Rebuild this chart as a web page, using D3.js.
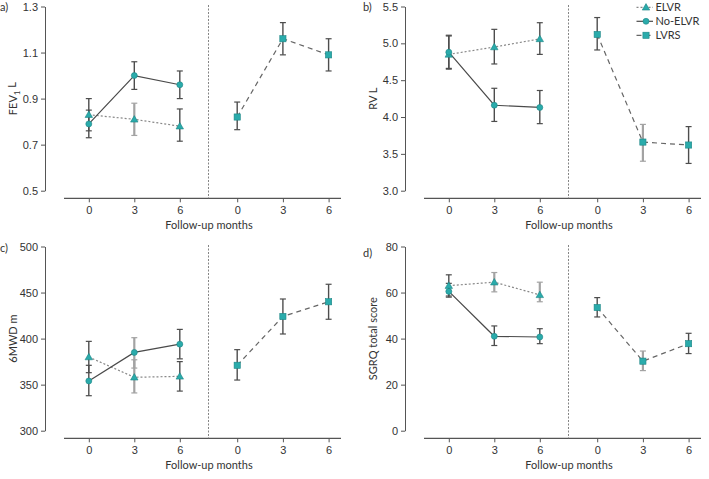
<!DOCTYPE html>
<html><head><meta charset="utf-8">
<script src="https://cdn.jsdelivr.net/npm/d3@7"></script>
<style>
body{margin:0;background:#fff;}
svg{display:block;font-family:Lato,"Noto Sans",sans-serif;}
</style></head>
<body><svg id="c" width="709" height="479"></svg>
<script>
// ---------- DATA ----------
const months = [0, 3, 6];
const seriesNames = ["ELVR", "No-ELVR", "LVRS"];
const xTitle = "Follow-up months";

// Panel a: FEV1 (L)
const fevTicks = [0.5, 0.7, 0.9, 1.1, 1.3];
const fevELVR = [0.83, 0.81, 0.78], fevELVRlo = [0.76, 0.74, 0.715], fevELVRhi = [0.90, 0.88, 0.855];
const fevNo = [0.79, 1.00, 0.96], fevNolo = [0.73, 0.94, 0.90], fevNohi = [0.85, 1.06, 1.02];
const fevLVRS = [0.82, 1.16, 1.09], fevLVRSlo = [0.765, 1.09, 1.02], fevLVRShi = [0.885, 1.23, 1.16];

// Panel b: RV (L)
const rvTicks = [3.0, 3.5, 4.0, 4.5, 5.0, 5.5];
const rvELVR = [4.85, 4.95, 5.06], rvELVRlo = [4.65, 4.72, 4.85], rvELVRhi = [5.11, 5.19, 5.28];
const rvNo = [4.88, 4.16, 4.13], rvNolo = [4.66, 3.94, 3.91], rvNohi = [5.10, 4.39, 4.36];
const rvLVRS = [5.12, 3.66, 3.62], rvLVRSlo = [4.91, 3.40, 3.37], rvLVRShi = [5.35, 3.90, 3.87];

// Panel c: 6MWD (m)
const mwdTicks = [300, 350, 400, 450, 500];
const mwdELVR = [380, 358, 359], mwdELVRlo = [363, 341, 343], mwdELVRhi = [397, 377, 375];
const mwdNo = [354, 385, 394], mwdNolo = [338, 368, 378], mwdNohi = [371, 401, 410];
const mwdLVRS = [371, 424, 440], mwdLVRSlo = [355, 405, 421], mwdLVRShi = [388, 443, 459];

// Panel d: SGRQ total score
const sgTicks = [0, 20, 40, 60, 80];
const sgELVR = [63, 64.5, 59], sgELVRlo = [58.5, 60.3, 56], sgELVRhi = [67.7, 68.7, 64.5];
const sgNo = [60.5, 41, 40.7], sgNolo = [58, 37, 37.8], sgNohi = [64, 45.5, 44.3];
const sgLVRS = [53.5, 30.2, 37.8], sgLVRSlo = [49.4, 26.1, 33.5], sgLVRShi = [57.8, 34.6, 42.3];

// ---------- STYLE ----------
const teal = "#2aabab", tealDark = "#1c8585";
const ink = "#333", axisCol = "#555";
const seriesStyle = {
  "ELVR":    {dash: "2,2", stroke: "#888", marker: "triangle", side: "L"},
  "No-ELVR": {dash: null,  stroke: "#4a4a4a", marker: "circle", side: "L"},
  "LVRS":    {dash: "5,4", stroke: "#666", marker: "square", side: "R"}
};
// error bars rendered in lighter grey in the original
const lightBars = new Set(["a|ELVR|3", "b|LVRS|3", "c|No-ELVR|3", "c|ELVR|3", "d|ELVR|3", "d|ELVR|6", "d|LVRS|3"]);

const panels = [
  {id: "a", ox: 0, oy: 0, ticks: fevTicks, fmt: d3.format(".1f"), title: ["FEV", "1", " L"], labelY: 7,
   series: [["ELVR", fevELVR, fevELVRlo, fevELVRhi], ["No-ELVR", fevNo, fevNolo, fevNohi], ["LVRS", fevLVRS, fevLVRSlo, fevLVRShi]]},
  {id: "b", ox: 360, oy: 0, ticks: rvTicks, fmt: d3.format(".1f"), title: ["RV L"], labelY: 7, legend: true,
   series: [["ELVR", rvELVR, rvELVRlo, rvELVRhi], ["No-ELVR", rvNo, rvNolo, rvNohi], ["LVRS", rvLVRS, rvLVRSlo, rvLVRShi]]},
  {id: "c", ox: 0, oy: 240, ticks: mwdTicks, fmt: d3.format("d"), title: ["6MWD m"], labelY: 8,
   series: [["ELVR", mwdELVR, mwdELVRlo, mwdELVRhi], ["No-ELVR", mwdNo, mwdNolo, mwdNohi], ["LVRS", mwdLVRS, mwdLVRSlo, mwdLVRShi]]},
  {id: "d", ox: 360, oy: 240, ticks: sgTicks, fmt: d3.format("d"), title: ["SGRQ total score"], labelY: 13,
   series: [["ELVR", sgELVR, sgELVRlo, sgELVRhi], ["No-ELVR", sgNo, sgNolo, sgNohi], ["LVRS", sgLVRS, sgLVRSlo, sgLVRShi]]}
];

const svg = d3.select("#c");
const triangle = d3.symbol().type(d3.symbolTriangle).size(24);
const fs = 11;

function drawMarker(g, type, x, y) {
  if (type === "circle") g.append("circle").attr("cx", x).attr("cy", y).attr("r", 3);
  else if (type === "square") g.append("rect").attr("x", x - 3.1).attr("y", y - 3.1).attr("width", 6.2).attr("height", 6.2);
  else g.append("path").attr("d", triangle).attr("transform", `translate(${x},${y + 0.6})`);
}

panels.forEach(p => {
  const g = svg.append("g").attr("transform", `translate(${p.ox},${p.oy})`);
  const y = d3.scaleLinear().domain([p.ticks[0], p.ticks[p.ticks.length - 1]]).range([190.7, 6.5]);
  const xL = d3.scaleLinear().domain([0, 6]).range([88.8, 179.8]);
  const xR = d3.scaleLinear().domain([0, 6]).range([237.2, 328.6]);
  const divX = (xL(6) + xR(0)) / 2;

  // panel letter
  g.append("text").attr("x", p.id === "b" || p.id === "d" ? 3 : 0).attr("y", p.labelY).attr("dy", "0.35em")
    .attr("font-size", fs).attr("fill", ink).text(p.id + ")");

  // y axis
  const ya = g.append("g").attr("transform", "translate(45,0)")
    .call(d3.axisLeft(y).tickValues(p.ticks).tickFormat(p.fmt).tickSize(4).tickPadding(3).tickSizeOuter(0));
  ya.select(".domain").attr("stroke", axisCol);
  ya.selectAll(".tick line").attr("stroke", axisCol);
  ya.selectAll(".tick text").attr("fill", ink).attr("font-size", fs).attr("font-family", null);

  // y title
  const yt = g.append("text").attr("transform", `translate(13,${(y.range()[0] + y.range()[1]) / 2}) rotate(-90)`)
    .attr("text-anchor", "middle").attr("dy", "0.35em").attr("font-size", fs).attr("fill", ink);
  if (p.title.length === 3) {
    yt.append("tspan").text(p.title[0]);
    yt.append("tspan").attr("font-size", 8).attr("dy", "0.35em").text(p.title[1]);
    yt.append("tspan").attr("dy", "-0.35em").text(p.title[2]);
  } else yt.text(p.title[0]);

  // x axis
  const xAxisY = 198.3;
  g.append("line").attr("x1", 64).attr("x2", 341).attr("y1", xAxisY).attr("y2", xAxisY).attr("stroke", axisCol).attr("stroke-width", 1.2);
  [xL, xR].forEach(sc => {
    const ax = g.append("g").attr("transform", `translate(0,${xAxisY})`)
      .call(d3.axisBottom(sc).tickValues(months).tickFormat(d3.format("d")).tickSize(4).tickPadding(4).tickSizeOuter(0));
    ax.select(".domain").remove();
    ax.selectAll(".tick line").attr("stroke", axisCol);
    ax.selectAll(".tick text").attr("fill", ink).attr("font-size", fs).attr("font-family", null);
  });
  g.append("text").attr("x", 209).attr("y", 225).attr("dy", "0.35em").attr("text-anchor", "middle")
    .attr("font-size", fs).attr("fill", ink).text(xTitle);

  // divider
  g.append("line").attr("x1", divX).attr("x2", divX).attr("y1", 5).attr("y2", xAxisY)
    .attr("stroke", "#777").attr("stroke-width", 0.9).attr("stroke-dasharray", "2,1.5");

  // error bars
  p.series.forEach(([name, vals, lo, hi]) => {
    const st = seriesStyle[name];
    const xs = st.side === "L" ? xL : xR;
    months.forEach((m, i) => {
      const light = lightBars.has(`${p.id}|${name}|${m}`);
      const col = light ? "#a3a3a3" : "#4d4d4d";
      const eg = g.append("g").attr("stroke", col);
      eg.append("line").attr("x1", xs(m)).attr("x2", xs(m)).attr("y1", y(lo[i])).attr("y2", y(hi[i])).attr("stroke-width", light ? 2.2 : 1.4);
      [lo[i], hi[i]].forEach(v => eg.append("line").attr("x1", xs(m) - 3).attr("x2", xs(m) + 3).attr("y1", y(v)).attr("y2", y(v)).attr("stroke-width", 1.2));
    });
  });

  // lines
  p.series.forEach(([name, vals]) => {
    const st = seriesStyle[name];
    const xs = st.side === "L" ? xL : xR;
    g.append("path").datum(vals)
      .attr("d", d3.line().x((d, i) => xs(months[i])).y(d => y(d)))
      .attr("fill", "none").attr("stroke", st.stroke).attr("stroke-width", 1.2)
      .attr("stroke-dasharray", st.dash);
  });

  // markers
  p.series.forEach(([name, vals]) => {
    const st = seriesStyle[name];
    const xs = st.side === "L" ? xL : xR;
    const mg = g.append("g").attr("fill", teal).attr("stroke", tealDark).attr("stroke-width", 0.6);
    vals.forEach((v, i) => drawMarker(mg, st.marker, xs(months[i]), y(v)));
  });

  // legend
  if (p.legend) {
    seriesNames.forEach((name, i) => {
      const st = seriesStyle[name];
      const ly = 7.3 + i * 14;
      g.append("line").attr("x1", 276.5).attr("x2", 293).attr("y1", ly).attr("y2", ly)
        .attr("stroke", st.stroke).attr("stroke-width", 1.2).attr("stroke-dasharray", st.dash);
      const mg = g.append("g").attr("fill", teal).attr("stroke", tealDark).attr("stroke-width", 0.6);
      drawMarker(mg, st.marker, 286, ly);
      g.append("text").attr("x", 295.5).attr("y", ly).attr("dy", "0.35em").attr("font-size", fs).attr("fill", ink).text(name);
    });
  }
});
</script></body></html>
